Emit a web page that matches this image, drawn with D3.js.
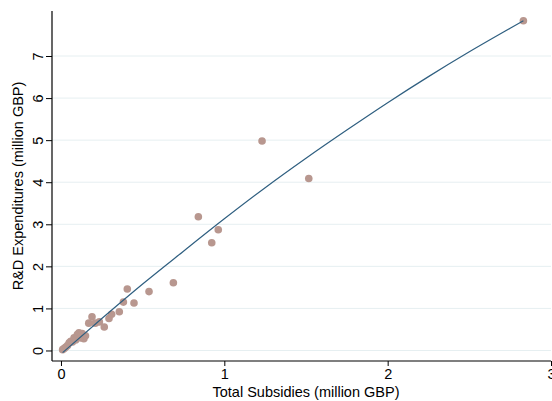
<!DOCTYPE html>
<html>
<head>
<meta charset="utf-8">
<script src="https://d3js.org/d3.v7.min.js"></script>
<style>
  body { margin: 0; background: #fff; }
  text { font-family: "Liberation Sans", Arial, sans-serif; }
</style>
</head>
<body>
<div id="chart"></div>
<script>
// Total subsidies (x) vs R&D expenditures (y), million GBP
var subsidies = [0.01, 0.02, 0.03, 0.04, 0.05, 0.06, 0.07, 0.08, 0.09, 0.10,
                 0.11, 0.12, 0.13, 0.14, 0.15, 0.17, 0.19, 0.21, 0.235, 0.265,
                 0.294, 0.31, 0.357, 0.382, 0.406, 0.447, 0.539, 0.688, 0.841, 0.923,
                 0.963, 1.231, 1.517, 2.831];
var rnd = [0.02, 0.05, 0.08, 0.12, 0.18, 0.22, 0.20, 0.30, 0.25, 0.38,
           0.42, 0.30, 0.40, 0.28, 0.35, 0.65, 0.80, 0.65, 0.68, 0.56,
           0.76, 0.86, 0.92, 1.15, 1.46, 1.13, 1.40, 1.61, 3.18, 2.56,
           2.87, 4.98, 4.09, 7.84];

// fitted curve
var fitX = [0.01, 0.25, 0.5, 0.75, 1.0, 1.25, 1.5, 1.75, 2.0, 2.25, 2.5, 2.75, 2.831];
var fitY = [-0.05, 0.76, 1.58, 2.36, 3.13, 3.87, 4.57, 5.24, 5.89, 6.51, 7.10, 7.66, 7.84];

var xTicks = [0, 1, 2, 3];
var yTicks = [0, 1, 2, 3, 4, 5, 6, 7];

var W = 552, H = 401;
var margin = {top: 11, right: 1, bottom: 40, left: 52};
var width = W - margin.left - margin.right,
    height = H - margin.top - margin.bottom;
var fontSize = "14.5px";

var svg = d3.select("#chart").append("svg")
    .attr("width", W)
    .attr("height", H);

var g = svg.append("g")
    .attr("transform", "translate(" + margin.left + "," + margin.top + ")");

var x = d3.scaleLinear().domain([-0.055, 3.0]).range([0, width]);
var y = d3.scaleLinear().domain([-0.25, 8.07]).range([height, 0]);

// gridlines
g.selectAll(".grid")
  .data(yTicks)
  .enter().append("line")
  .attr("x1", 0).attr("x2", width)
  .attr("y1", function(d) { return y(d); })
  .attr("y2", function(d) { return y(d); })
  .attr("stroke", "#e6eff1")
  .attr("stroke-width", 1);

// points
g.selectAll(".dot")
  .data(subsidies)
  .enter().append("circle")
  .attr("cx", function(d) { return x(d); })
  .attr("cy", function(d, i) { return y(rnd[i]); })
  .attr("r", 3.8)
  .attr("fill", "#b8978f");

// fitted line
var line = d3.line()
  .x(function(d) { return x(d); })
  .y(function(d, i) { return y(fitY[i]); })
  .curve(d3.curveMonotoneX);

g.append("path")
  .attr("d", line(fitX))
  .attr("fill", "none")
  .attr("stroke", "#2f5f80")
  .attr("stroke-width", 1.2);

// axes
var xAxis = d3.axisBottom(x).tickValues(xTicks).tickSize(5).tickPadding(3).tickFormat(d3.format("d"));
var yAxis = d3.axisLeft(y).tickValues(yTicks).tickSize(6).tickPadding(3).tickFormat(d3.format("d"));

var gx = g.append("g")
  .attr("transform", "translate(0," + height + ")")
  .call(xAxis);
var gy = g.append("g").call(yAxis);

[gx, gy].forEach(function(a) {
  a.select(".domain").attr("stroke", "#000").attr("stroke-width", 1.2);
  a.selectAll(".tick line").attr("stroke", "#000");
  a.selectAll(".tick text")
    .attr("fill", "#000")
    .style("font-size", fontSize)
    .style("font-family", "'Liberation Sans', Arial, sans-serif");
});
gx.select(".domain").attr("d", "M0,0H" + width);
gy.select(".domain").attr("d", "M0,0V" + height);

// rotate y tick labels
gy.selectAll(".tick text")
  .attr("x", null).attr("dy", null)
  .attr("text-anchor", "middle")
  .attr("transform", "translate(-14,0) rotate(-90)")
  .attr("dy", "0.35em");

// axis titles
svg.append("text")
  .attr("x", margin.left + x(1.5))
  .attr("y", 397)
  .attr("text-anchor", "middle")
  .style("font-size", fontSize)
  .text("Total Subsidies (million GBP)");

svg.append("text")
  .attr("transform", "translate(23," + (margin.top + height / 2) + ") rotate(-90)")
  .attr("text-anchor", "middle")
  .style("font-size", fontSize)
  .text("R&D Expenditures (million GBP)");
</script>
</body>
</html>
